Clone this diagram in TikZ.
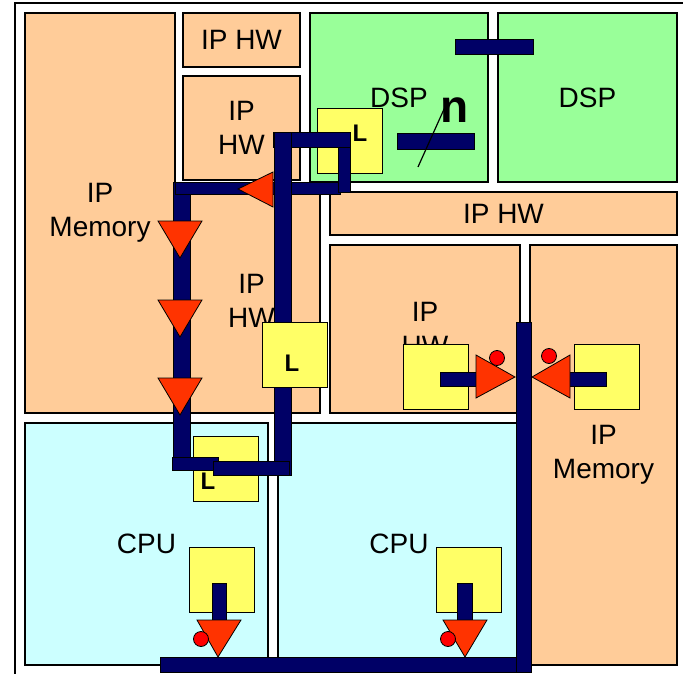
\documentclass[tikz,border=0pt]{standalone}
\usepackage{fontspec}
\setmainfont{Liberation Sans}
\definecolor{peach}{HTML}{FFCC99}
\definecolor{dspgreen}{HTML}{99FF99}
\definecolor{cpucyan}{HTML}{CCFFFF}
\definecolor{lyellow}{HTML}{FFFF66}
\definecolor{busnavy}{HTML}{000066}
\definecolor{flowred}{HTML}{FF3300}

\begin{document}
\begin{tikzpicture}[x=1pt, y=-1pt,
    blk/.style={draw, line width=1.5pt, align=center, inner sep=0pt,
        font=\fontsize{28}{34}\selectfont},
    lbox/.style={draw, fill=lyellow, line width=1pt, minimum size=65pt, inner sep=0pt},
    lname/.style={font=\bfseries\fontsize{24}{24}\selectfont},
    bus/.style={fill=busnavy, draw=black, line width=0.4pt},
    flow/.style={fill=flowred, draw=black, line width=0.8pt},
    dot/.style={fill=red, draw=black, line width=0.8pt}]
    \useasboundingbox (0,0) rectangle (683,674);

    % Draw frame
    \draw[line width=1.2pt] (683,3) -- (15,3) -- (15,674);

    % Draw blocks
    \node[blk, fill=peach, minimum width=150pt, minimum height=400pt] (memL) at (100,213) {IP\\Memory};
    \node[blk, fill=peach, minimum width=117pt, minimum height=54pt] (hwTop) at (241.5,40) {IP HW};
    \node[blk, fill=peach, minimum width=117pt, minimum height=104pt] (hwUp) at (241.5,128) {IP\\HW};
    \node[blk, fill=peach, minimum width=137pt, minimum height=225pt] (hwLow) at (251.5,300.5) {IP\\HW};
    \node[blk, fill=dspgreen, minimum width=178pt, minimum height=169pt] (dspL) at (399,97.5) {DSP};
    \node[blk, fill=dspgreen, minimum width=179pt, minimum height=169pt] (dspR) at (587.5,97.5) {DSP};
    \node[blk, fill=peach, minimum width=347pt, minimum height=43pt] (hwWide) at (503.5,213.5) {IP HW};
    \node[blk, fill=peach, minimum width=190pt, minimum height=168pt] (hwMid) at (425,329) {IP\\HW};
    \node[blk, fill=peach, minimum width=147pt, minimum height=420pt] (memR) at (603.5,455) {IP\\Memory};
    \node[blk, fill=cpucyan, minimum width=243pt, minimum height=242pt] (cpuL) at (146.5,544) {CPU};
    \node[blk, fill=cpucyan, minimum width=242pt, minimum height=242pt] (cpuR) at (399,544) {CPU};

    % L boxes under the buses
    \node[lbox] (l1) at (350,141.5) {};
    \node[lbox] (l3) at (226,468.5) {};

    % Draw buses
    \fill[bus] (173,182) rectangle (190,470);
    \fill[bus] (175,182) rectangle (340,194);
    \fill[bus] (338,132) rectangle (350,192);
    \fill[bus] (273,132) rectangle (350,147);
    \fill[bus] (274,132) rectangle (291,475);
    \fill[bus] (172,457) rectangle (218,470);
    \fill[bus] (213,461) rectangle (289,475);
    \fill[bus] (160,657) rectangle (531,672);
    \fill[bus] (516,322) rectangle (531,672);
    \fill[bus] (455,39) rectangle (533,54);
    \fill[bus] (397,133) rectangle (474,149);

    % L box over the bus
    \node[lbox] (l2) at (295,355) {};
    \node[lname] at (360,133) {L};
    \node[lname] at (292,363) {L};
    \node[lname] at (208,481) {L};

    % Flow on the left path
    \draw[flow] (273,172) -- (238,189) -- (273,207) -- cycle;
    \foreach \y in {0,79,157} {
        \draw[flow] (158,221+\y) -- (202,221+\y) -- (180,258+\y) -- cycle;
    }

    % Ports
    \node[lbox] (p1) at (435.5,377) {};
    \node[lbox] (p2) at (606.5,377) {};
    \node[lbox] (p3) at (222,580) {};
    \node[lbox] (p4) at (469,580) {};
    \fill[bus] (440,372) rectangle (478,386);
    \fill[bus] (568,372) rectangle (606,386);
    \fill[bus] (212,583) rectangle (226,620);
    \fill[bus] (457,583) rectangle (472,620);
    \draw[flow] (476,355) -- (515,377) -- (476,398) -- cycle;
    \draw[flow] (570,355) -- (532,377) -- (570,398) -- cycle;
    \draw[flow] (197,620) -- (241,620) -- (218,657) -- cycle;
    \draw[flow] (443,620) -- (487,620) -- (465,657) -- cycle;
    \draw[dot] (497,358) circle (7.5);
    \draw[dot] (549,356) circle (7.5);
    \draw[dot] (201,639) circle (7.5);
    \draw[dot] (448,639) circle (7.5);

    % Bus width
    \draw[line width=1.2pt] (418,167) -- (445,107);
    \node[font=\bfseries\fontsize{46}{46}\selectfont, anchor=base] (n) at (455,123) {n};
\end{tikzpicture}
\end{document}
